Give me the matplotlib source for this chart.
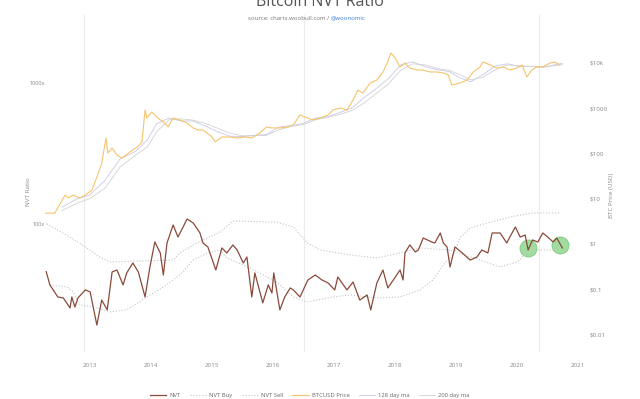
import numpy as np
import matplotlib.pyplot as plt

# NVT ratio (left axis, log)
nvt_years = [2012.29, 2012.35, 2012.48, 2012.57, 2012.68, 2012.71, 2012.76, 2012.81, 2012.93, 2013.01,
             2013.12, 2013.20, 2013.29, 2013.37, 2013.45, 2013.55, 2013.61, 2013.71, 2013.80, 2013.91,
             2013.99, 2014.07, 2014.16, 2014.21, 2014.27, 2014.37, 2014.45, 2014.60, 2014.70, 2014.81,
             2014.86, 2014.94, 2015.07, 2015.17, 2015.25, 2015.35, 2015.42, 2015.52, 2015.58, 2015.66,
             2015.71, 2015.84, 2015.93, 2015.99, 2016.02, 2016.12, 2016.20, 2016.29, 2016.34, 2016.45,
             2016.58, 2016.70, 2016.81, 2016.91, 2017.02, 2017.07, 2017.22, 2017.32, 2017.43, 2017.55,
             2017.61, 2017.71, 2017.81, 2017.89, 2017.98, 2018.09, 2018.14, 2018.17, 2018.25, 2018.34,
             2018.39, 2018.47, 2018.61, 2018.66, 2018.75, 2018.80, 2018.86, 2018.91, 2018.99, 2019.11,
             2019.24, 2019.35, 2019.43, 2019.53, 2019.60, 2019.73, 2019.84, 2019.89, 2019.98, 2020.06,
             2020.14, 2020.19, 2020.26, 2020.35, 2020.43, 2020.51, 2020.60, 2020.66, 2020.75]
nvt = [46.0, 37.1, 30.5, 30.0, 25.5, 30.5, 25.9, 30.0, 34.2, 33.1,
       19.3, 29.0, 24.7, 45.8, 47.3, 37.1, 45.1, 53.0, 45.8, 30.5,
       49.7, 74.6, 62.4, 43.6, 73.4, 98.4, 80.9, 108.5, 101.6, 86.4,
       73.4, 68.8, 47.3, 67.7, 62.4, 71.1, 65.5, 53.0, 58.4, 30.5,
       45.1, 27.7, 37.1, 32.5, 45.1, 24.7, 30.5, 35.3, 34.2, 30.5,
       40.2, 43.6, 40.2, 38.3, 34.2, 42.2, 34.2, 38.9, 29.0, 31.5,
       24.7, 38.3, 47.3, 35.3, 40.2, 47.3, 40.2, 62.4, 71.1, 63.4,
       65.5, 79.6, 74.6, 73.4, 86.4, 73.4, 68.8, 49.7, 68.8, 62.4,
       55.6, 58.4, 65.5, 62.4, 86.4, 86.4, 73.4, 80.9, 95.2, 80.9,
       83.6, 65.5, 77.1, 74.6, 86.4, 80.9, 74.6, 79.6, 67.7]

sell_years = [2012.30, 2012.76, 2013.17, 2013.34, 2014.37, 2014.48, 2014.76, 2015.14, 2015.35, 2016.07,
              2016.34, 2016.57, 2016.78, 2017.27, 2017.71, 2018.09, 2018.42, 2018.91, 2019.40, 2019.73,
              2020.01, 2020.17, 2020.33, 2020.66]
nvt_sell = [100, 77.1, 58.4, 53.9, 55.6, 62.4, 73.4, 87.8, 105, 103,
            95.2, 73.4, 65.5, 60.4, 57.5, 62.4, 67.7, 65.5, 55.6, 49.7,
            53.9, 62.4, 65.5, 65.5]

buy_years = [2012.35, 2012.63, 2012.73, 2012.84, 2013.06, 2013.34, 2013.61, 2013.94, 2014.21, 2014.48,
             2014.70, 2014.93, 2015.14, 2015.25, 2015.63, 2016.07, 2016.34, 2016.57, 2016.99, 2017.27,
             2017.71, 2018.09, 2018.42, 2018.63, 2018.80, 2018.99, 2019.07, 2019.24, 2019.52, 2019.89,
             2020.26, 2020.71]
nvt_buy = [37.1, 35.9, 33.1, 26.8, 25.9, 23.9, 24.7, 30.5, 35.9, 43.6,
           55.6, 62.4, 65.5, 57.5, 48.9, 38.9, 30.5, 28.1, 30.5, 31.5,
           30.0, 30.5, 34.2, 40.2, 51.3, 63.4, 79.6, 93.7, 101.6, 112,
           119.6, 119.6]

# BTC price (right axis, log)
price_years = [2012.28, 2012.43, 2012.60, 2012.65, 2012.73, 2012.84, 2012.93, 2013.04, 2013.12, 2013.20,
               2013.27, 2013.30, 2013.37, 2013.45, 2013.53, 2013.66, 2013.78, 2013.86, 2013.91, 2013.94,
               2014.02, 2014.12, 2014.21, 2014.29, 2014.37, 2014.48, 2014.60, 2014.70, 2014.78, 2014.86,
               2015.01, 2015.06, 2015.17, 2015.30, 2015.42, 2015.55, 2015.66, 2015.79, 2015.90, 2015.99,
               2016.12, 2016.24, 2016.34, 2016.45, 2016.57, 2016.66, 2016.78, 2016.91, 2016.99, 2017.11,
               2017.22, 2017.32, 2017.40, 2017.48, 2017.60, 2017.71, 2017.81, 2017.88, 2017.94, 2018.01,
               2018.09, 2018.17, 2018.25, 2018.37, 2018.47, 2018.58, 2018.70, 2018.80, 2018.88, 2018.94,
               2019.07, 2019.19, 2019.29, 2019.40, 2019.45, 2019.57, 2019.68, 2019.78, 2019.89, 2020.01,
               2020.09, 2020.17, 2020.25, 2020.33, 2020.43, 2020.55, 2020.63, 2020.71]
price = [4.8, 4.8, 12, 10.4, 12, 10.4, 12, 15.6, 30, 61,
         219, 102, 131, 92, 79, 107, 138, 179, 908, 604,
         820, 604, 493, 383, 604, 546, 469, 364, 329, 329,
         230, 179, 230, 230, 219, 230, 219, 282, 383, 364,
         364, 383, 424, 705, 604, 546, 604, 705, 908, 1005,
         908, 1510, 2500, 2150, 3580, 4170, 6270, 9900, 16400, 12800,
         8070, 9900, 7680, 6930, 6930, 6270, 6270, 5960, 5380, 3240,
         3580, 4170, 6270, 8070, 10400, 8940, 7680, 8070, 6930, 7680,
         8940, 4860, 6930, 8070, 8070, 9900, 10400, 8940]

ma_years = [2012.55, 2012.8, 2013.0, 2013.25, 2013.5, 2013.75, 2013.95, 2014.1, 2014.3, 2014.5,
            2014.7, 2014.9, 2015.1, 2015.3, 2015.5, 2015.7, 2015.9, 2016.1, 2016.3, 2016.5,
            2016.7, 2016.9, 2017.1, 2017.3, 2017.5, 2017.7, 2017.9, 2018.1, 2018.3, 2018.5,
            2018.7, 2018.9, 2019.05, 2019.25, 2019.45, 2019.65, 2019.85, 2020.05, 2020.25, 2020.45,
            2020.65, 2020.75]
ma128 = [6.5, 10, 12, 25, 75, 110, 200, 450, 600, 520,
         520, 400, 300, 240, 235, 250, 260, 380, 410, 460,
         600, 640, 800, 1000, 1700, 2700, 4500, 9000, 10500, 8200,
         7000, 6400, 4800, 3800, 5500, 8500, 9500, 8200, 8300, 8000,
         9200, 9700]
ma200 = [5.5, 8, 10, 17, 50, 90, 140, 300, 550, 580,
         540, 460, 360, 280, 245, 245, 250, 330, 390, 430,
         550, 620, 730, 880, 1300, 2100, 3400, 6800, 9500, 9000,
         7500, 6800, 5600, 4200, 4800, 7000, 9000, 8600, 8300, 8200,
         8700, 9100]

halvings = [2012.91, 2016.52, 2020.36]
signal_years = [2020.19, 2020.71]
signal_nvt = [67.7, 71.1]

year_ticks = list(range(2013, 2022))
price_ticks = [0.01, 0.1, 1, 10, 100, 1000, 10000]
price_labels = ['$0.01', '$0.1', '$1', '$10', '$100', '$1000', '$10k']

plt.rcParams['font.family'] = ['Open Sans', 'DejaVu Sans']
grey = '#888888'

fig = plt.figure(figsize=(6.4, 3.99), dpi=100)
ax = fig.add_axes([45/640, 1-352/399, 535/640, 337/399])
ax2 = ax.twinx()

for h in halvings:
    ax.axvline(h, color='#ececec', lw=0.8, zorder=0)

ax.scatter(signal_years, signal_nvt, s=150, color='#8fd68f', edgecolors='#74c474',
           linewidths=0.6, alpha=0.85, zorder=2)
l_nvt, = ax.plot(nvt_years, nvt, color='#8a4a3a', lw=0.9, zorder=3, label='NVT')
l_buy, = ax.plot(buy_years, nvt_buy, color='#c4c4c4', lw=0.8, ls=':', label='NVT Buy')
l_sell, = ax.plot(sell_years, nvt_sell, color='#c4c4c4', lw=0.8, ls=':', label='NVT Sell')

l_ma128, = ax2.plot(ma_years, ma128, color='#c8c8e6', lw=0.6, label='128 day ma')
l_ma200, = ax2.plot(ma_years, ma200, color='#d2d2d2', lw=0.6, label='200 day ma')
l_price, = ax2.plot(price_years, price, color='#f6c46c', lw=0.8, label='BTCUSD Price')

ax.set_yscale('log')
ax.set_ylim(12.45, 3000)
ax2.set_yscale('log')
ax2.set_ylim(0.00413, 113500)
ax.set_xlim(2012.27, 2021.04)

ax.set_xticks(year_ticks)
ax.set_xticklabels([str(y) for y in year_ticks])
ax.set_yticks([100, 1000])
ax.set_yticklabels(['100x', '1000x'])
ax.yaxis.set_minor_locator(plt.NullLocator())
ax2.set_yticks(price_ticks)
ax2.set_yticklabels(price_labels)
ax2.yaxis.set_minor_locator(plt.NullLocator())

ax.tick_params(axis='x', length=0, pad=8, labelsize=4.5, labelcolor=grey)
ax.tick_params(axis='y', length=0, pad=0, labelsize=4, labelcolor=grey)
ax2.tick_params(axis='y', length=0, pad=7, labelsize=4.5, labelcolor=grey)

for a in (ax, ax2):
    for s in a.spines.values():
        s.set_visible(False)

fig.text(28/640, 1-192/399, 'NVT Ratio', rotation=90, ha='center', va='center',
         fontsize=4.5, color=grey)
fig.text(611/640, 1-195/399, 'BTC Price (USD)', rotation=90, ha='center', va='center',
         fontsize=4.5, color=grey)

fig.text(0.5, 1-2/399, 'Bitcoin NVT Ratio', ha='center', va='center', fontsize=11.5, color='#555555')
fig.text(331/640, 1-18/399, 'source: charts.woobull.com / ', ha='right', va='center',
         fontsize=4.3, color='#777777')
fig.text(331/640, 1-18/399, '@woonomic', ha='left', va='center', fontsize=4.3, color='#3a7bd5')

handles = [l_nvt, l_buy, l_sell, l_price, l_ma128, l_ma200]
fig.legend(handles, [h.get_label() for h in handles], loc='center', bbox_to_anchor=(0.484, 1-395/399),
           ncol=6, frameon=False, fontsize=4.2, handlelength=2.8, handletextpad=0.5,
           columnspacing=1.6, labelcolor='#666666')

fig.savefig('out.png', dpi=100, facecolor='white')
